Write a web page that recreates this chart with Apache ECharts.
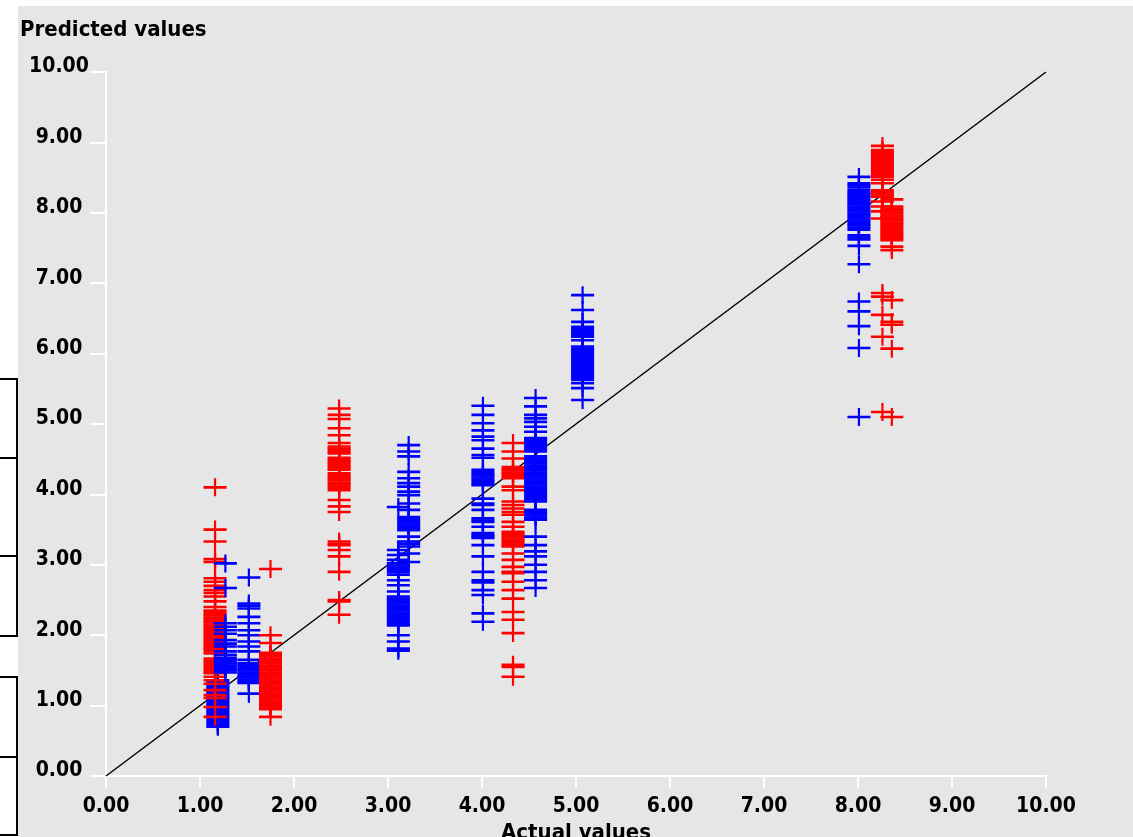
<!DOCTYPE html>
<html>
<head>
<meta charset="utf-8">
<title>Predicted vs actual</title>
<script src="https://cdn.jsdelivr.net/npm/echarts@6/dist/echarts.min.js"></script>
<style>
  html, body { margin: 0; padding: 0; background: #ffffff; }
  #wrap { position: relative; width: 1133px; height: 837px; overflow: hidden; background: #ffffff; }
  #panel { position: absolute; left: 18px; top: 6px; right: 0; bottom: 0; background: #e6e6e6; }
  #main { position: absolute; left: 0; top: 0; width: 1133px; height: 837px; }
</style>
</head>
<body>
<div id="wrap">
  <div id="panel"></div>
  <div id="main"></div>
</div>
<script>
  // tick labels
  const xTicks = [0, 1, 2, 3, 4, 5, 6, 7, 8, 9, 10]
  const yTicks = [0, 1, 2, 3, 4, 5, 6, 7, 8, 9, 10]

  // ideal line: predicted = actual
  const idealLine = [[0, 0], [10, 10]]

  // predicted values, one array per actual value column
  const red116 = [4.10, 3.50, 3.33, 3.08, 3.04, 2.81, 2.76, 2.70, 2.64, 2.60, 2.55, 2.48, 2.40,
    2.35, 2.33, 2.30, 2.28, 2.25, 2.23, 2.20, 2.18, 2.15, 2.12, 2.10, 2.07, 2.05, 2.02, 2.00,
    1.97, 1.95, 1.92, 1.90, 1.87, 1.85, 1.82, 1.80, 1.77, 1.74, 1.67, 1.64, 1.62, 1.59, 1.56,
    1.54, 1.51, 1.48, 1.46, 1.41, 1.36, 1.31, 1.22, 1.15, 1.11, 0.98, 0.84]
  const blue119 = [0.70, 0.72, 0.75, 0.77, 0.80, 0.82, 0.85, 0.87, 0.90, 0.92, 0.95, 0.97, 1.00,
    1.02, 1.05, 1.07, 1.10, 1.12, 1.15, 1.17, 1.20, 1.22, 1.25, 1.27, 1.30, 1.33, 1.36]
  const blue127 = [3.02, 2.67, 2.17, 2.12, 2.07, 2.02, 1.93, 1.88, 1.84, 1.77, 1.72, 1.68, 1.65,
    1.62, 1.60, 1.57, 1.55, 1.52, 1.50, 1.47]
  const blue152 = [2.82, 2.45, 2.42, 2.38, 2.26, 2.17, 2.07, 2.00, 1.91, 1.84, 1.77, 1.65, 1.60,
    1.58, 1.55, 1.52, 1.50, 1.47, 1.45, 1.42, 1.40, 1.37, 1.35, 1.32, 1.17]
  const red175 = [2.94, 2.00, 1.89, 1.75, 1.72, 1.70, 1.67, 1.65, 1.62, 1.60, 1.57, 1.55, 1.52,
    1.50, 1.47, 1.45, 1.42, 1.40, 1.37, 1.35, 1.32, 1.30, 1.27, 1.25, 1.22, 1.20, 1.17, 1.15,
    1.12, 1.10, 1.07, 1.05, 1.02, 1.00, 0.97, 0.95, 0.84]
  const red248 = [5.22, 5.13, 5.07, 4.94, 4.84, 4.73, 4.68, 4.65, 4.63, 4.60, 4.58, 4.52, 4.50,
    4.47, 4.45, 4.42, 4.40, 4.37, 4.35, 4.30, 4.27, 4.25, 4.22, 4.20, 4.17, 4.15, 4.12, 4.09,
    4.06, 3.92, 3.83, 3.75, 3.33, 3.30, 3.28, 3.21, 3.12, 2.90, 2.50, 2.48, 2.29]
  const blue311 = [3.82, 3.21, 3.14, 3.07, 3.02, 2.99, 2.96, 2.93, 2.90, 2.86, 2.78, 2.71, 2.62,
    2.55, 2.52, 2.50, 2.47, 2.45, 2.42, 2.40, 2.37, 2.35, 2.32, 2.30, 2.27, 2.25, 2.22, 2.19,
    2.16, 2.14, 2.00, 1.91, 1.81, 1.78]
  const blue322 = [4.70, 4.61, 4.54, 4.32, 4.23, 4.16, 4.11, 4.04, 3.99, 3.87, 3.78, 3.68, 3.65,
    3.62, 3.60, 3.57, 3.54, 3.51, 3.49, 3.40, 3.33, 3.30, 3.26, 3.16, 3.04]
  const blue401 = [5.26, 5.13, 5.01, 4.91, 4.82, 4.77, 4.65, 4.56, 4.52, 4.35, 4.32, 4.29, 4.27,
    4.24, 4.21, 4.18, 4.15, 4.13, 3.94, 3.87, 3.85, 3.78, 3.66, 3.63, 3.61, 3.54, 3.45, 3.42,
    3.40, 3.38, 3.28, 3.12, 2.90, 2.78, 2.75, 2.64, 2.57, 2.31, 2.19]
  const red433 = [4.73, 4.61, 4.51, 4.39, 4.36, 4.34, 4.31, 4.29, 4.26, 4.23, 4.11, 4.06, 3.90,
    3.85, 3.80, 3.75, 3.71, 3.61, 3.54, 3.47, 3.44, 3.42, 3.39, 3.36, 3.34, 3.31, 3.28, 3.26,
    3.16, 3.07, 2.97, 2.90, 2.88, 2.76, 2.64, 2.52, 2.33, 2.22, 2.03, 1.58, 1.55, 1.41]
  const blue457 = [5.37, 5.25, 5.13, 5.08, 5.03, 4.96, 4.89, 4.80, 4.77, 4.75, 4.72, 4.70, 4.67,
    4.64, 4.61, 4.54, 4.51, 4.49, 4.46, 4.44, 4.41, 4.39, 4.36, 4.34, 4.31, 4.29, 4.26, 4.24,
    4.21, 4.19, 4.16, 4.14, 4.11, 4.09, 4.06, 4.04, 4.01, 3.98, 3.95, 3.93, 3.90, 3.78, 3.75,
    3.73, 3.70, 3.67, 3.64, 3.40, 3.28, 3.19, 3.12, 3.00, 2.90, 2.78, 2.67]
  const blue507 = [6.83, 6.62, 6.45, 6.38, 6.35, 6.32, 6.29, 6.26, 6.24, 6.19, 6.10, 6.07, 6.05,
    6.02, 6.00, 5.97, 5.95, 5.92, 5.90, 5.87, 5.85, 5.82, 5.80, 5.77, 5.75, 5.72, 5.70, 5.68,
    5.65, 5.63, 5.58, 5.51, 5.34]
  const blue801 = [8.51, 8.42, 8.39, 8.36, 8.32, 8.29, 8.27, 8.24, 8.22, 8.19, 8.17, 8.14, 8.12,
    8.09, 8.07, 8.04, 8.02, 7.99, 7.97, 7.94, 7.92, 7.89, 7.87, 7.84, 7.82, 7.79, 7.76, 7.68,
    7.65, 7.62, 7.53, 7.27, 6.74, 6.60, 6.39, 6.08, 5.10]
  const red826 = [8.95, 8.89, 8.86, 8.84, 8.81, 8.79, 8.76, 8.74, 8.71, 8.69, 8.66, 8.64, 8.61,
    8.59, 8.56, 8.54, 8.51, 8.47, 8.42, 8.32, 8.29, 8.26, 8.23, 8.16, 8.09, 8.02, 7.92, 6.86,
    6.81, 6.55, 6.24, 5.17]
  const red836 = [8.19, 8.09, 8.06, 8.04, 8.01, 7.99, 7.96, 7.94, 7.91, 7.89, 7.86, 7.84, 7.81,
    7.79, 7.76, 7.74, 7.71, 7.69, 7.66, 7.63, 7.61, 7.52, 7.47, 6.76, 6.45, 6.41, 6.07, 5.10]

  // columns in drawing order: [actual value, colour, predicted values]
  const columns = [
    [1.19, 'blue', blue119],
    [1.16, 'red', red116],
    [1.27, 'blue', blue127],
    [1.52, 'blue', blue152],
    [1.75, 'red', red175],
    [2.48, 'red', red248],
    [3.11, 'blue', blue311],
    [3.22, 'blue', blue322],
    [4.01, 'blue', blue401],
    [4.33, 'red', red433],
    [4.57, 'blue', blue457],
    [5.07, 'blue', blue507],
    [8.01, 'blue', blue801],
    [8.26, 'red', red826],
    [8.36, 'red', red836]
  ]

  const colours = { red: '#ff0000', blue: '#0000ff' }
  // plus sign, 23 wide and 18 high
  const plus = 'path://M0,7.7H23V10.3H0Z M10.4,0H12.6V18H10.4Z'
  const font = '"DejaVu Sans Condensed", "DejaVu Sans", sans-serif'

  const chart = echarts.init(document.getElementById('main'))

  const series = [
    {
      type: 'line',
      data: idealLine,
      symbol: 'none',
      silent: true,
      z: 1,
      lineStyle: { color: '#000000', width: 1.5 }
    }
  ]
  columns.forEach((col, i) => {
    series.push({
      type: 'scatter',
      name: col[1] + i,
      data: col[2].map((v) => [col[0], v]),
      symbol: plus,
      symbolSize: [23, 18],
      large: false,
      silent: true,
      z: 2,
      itemStyle: { color: colours[col[1]], opacity: 1 }
    })
  })

  // boxes at the left edge of the window
  const boxes = [[379, 458], [458, 556], [556, 636], [677, 757], [757, 835]]

  const option = {
    animation: false,
    title: {
      text: 'Predicted values',
      left: 20,
      top: 19,
      padding: 0,
      textStyle: { fontFamily: font, fontSize: 22, fontWeight: 'bold', color: '#000000' }
    },
    grid: {
      left: 106,
      right: 87,
      top: 72,
      bottom: 61,
      show: false,
      containLabel: false,
      outerBoundsMode: 'none'
    },
    xAxis: {
      type: 'value',
      min: xTicks[0],
      max: xTicks[xTicks.length - 1],
      interval: 1,
      name: 'Actual values',
      nameLocation: 'middle',
      nameGap: 46,
      nameTextStyle: { fontFamily: font, fontSize: 22, fontWeight: 'bold', color: '#000000' },
      axisLine: { show: true, lineStyle: { color: '#ffffff', width: 2 } },
      axisTick: { show: true, length: 12, lineStyle: { color: '#ffffff', width: 2 } },
      splitLine: { show: false },
      axisLabel: {
        margin: 20,
        color: '#000000',
        fontFamily: font,
        fontSize: 21,
        fontWeight: 'bold',
        formatter: (v) => v.toFixed(2)
      }
    },
    yAxis: {
      type: 'value',
      min: yTicks[0],
      max: yTicks[yTicks.length - 1],
      interval: 1,
      axisLine: { show: true, lineStyle: { color: '#ffffff', width: 2 } },
      axisTick: { show: true, length: 16, lineStyle: { color: '#ffffff', width: 2 } },
      splitLine: { show: false },
      axisLabel: {
        margin: 47,
        align: 'center',
        verticalAlign: 'bottom',
        lineHeight: 10,
        color: '#000000',
        fontFamily: font,
        fontSize: 21,
        fontWeight: 'bold',
        formatter: (v) => v.toFixed(2)
      }
    },
    graphic: boxes.map((b) => ({
      type: 'rect',
      silent: true,
      shape: { x: -5, y: b[0], width: 22, height: b[1] - b[0] },
      style: { fill: 'none', stroke: '#000000', lineWidth: 2 }
    })),
    series: series
  }
  chart.setOption(option)
</script>
</body>
</html>
